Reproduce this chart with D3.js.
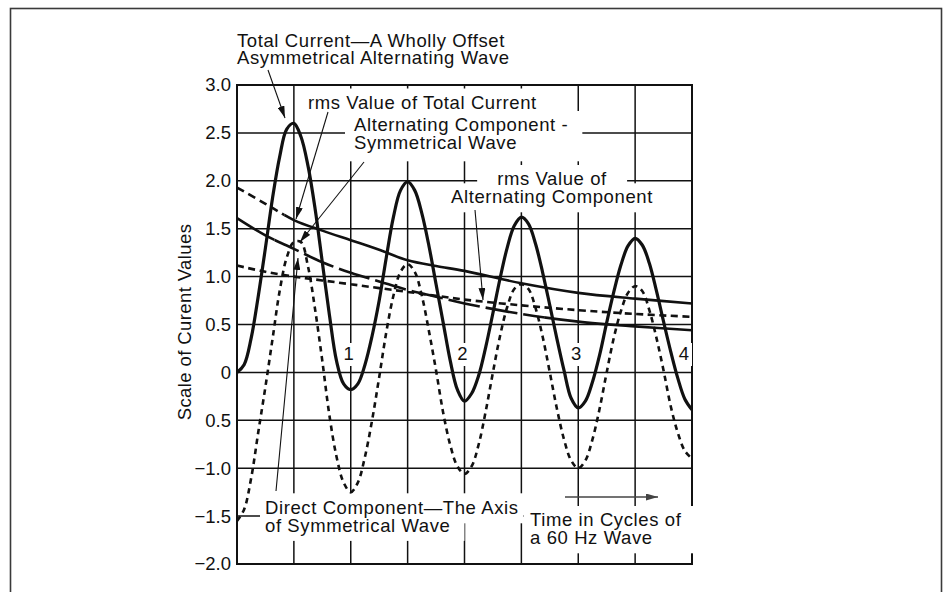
<!DOCTYPE html>
<html><head><meta charset="utf-8">
<script src="https://cdn.jsdelivr.net/npm/d3@7"></script>
<style>
body{margin:0;background:#fff}
svg{display:block}
text{font-family:"Liberation Sans",Arial,Helvetica,sans-serif;font-size:18.5px;fill:#111;letter-spacing:0.6px}
text.tick{font-size:18.5px;letter-spacing:0}
text.ytitle{font-size:18.5px;letter-spacing:0.4px}
</style>
</head><body>
<svg id="chart" width="951" height="592"></svg>
<script>
// ---- data ----
const cycles = [0,0.0625,0.125,0.1875,0.25,0.3125,0.375,0.4375,0.5,0.5625,0.625,0.6875,0.75,0.8125,0.875,0.9375,
  1,1.0625,1.125,1.1875,1.25,1.3125,1.375,1.4375,1.5,1.5625,1.625,1.6875,1.75,1.8125,1.875,1.9375,
  2,2.0625,2.125,2.1875,2.25,2.3125,2.375,2.4375,2.5,2.5625,2.625,2.6875,2.75,2.8125,2.875,2.9375,
  3,3.0625,3.125,3.1875,3.25,3.3125,3.375,3.4375,3.5,3.5625,3.625,3.6875,3.75,3.8125,3.875,3.9375,4];
const totalCurrent = [0,0.08,0.36,0.8,1.3,1.82,2.25,2.54,2.6,2.46,2.15,1.7,1.15,0.6,0.12,-0.12,
  -0.18,-0.12,0.08,0.38,0.75,1.2,1.62,1.9,1.99,1.9,1.66,1.32,0.92,0.52,0.12,-0.18,
  -0.3,-0.22,-0.03,0.27,0.62,0.98,1.3,1.53,1.62,1.55,1.34,1.04,0.7,0.35,0.02,-0.27,
  -0.37,-0.3,-0.1,0.18,0.52,0.84,1.12,1.32,1.4,1.33,1.14,0.85,0.53,0.22,-0.06,-0.28,-0.39];
const alternatingComponent = [-1.55,-1.43,-1.1,-0.62,-0.15,0.35,0.85,1.2,1.36,1.36,1.1,0.65,0.12,-0.45,-0.88,-1.15,
  -1.25,-1.15,-0.88,-0.5,-0.05,0.42,0.8,1.05,1.13,1.05,0.8,0.43,0.02,-0.42,-0.76,-0.98,
  -1.06,-0.98,-0.75,-0.4,0,0.38,0.68,0.87,0.92,0.87,0.67,0.37,0,-0.38,-0.7,-0.92,
  -1.0,-0.92,-0.7,-0.38,0,0.36,0.64,0.83,0.9,0.85,0.65,0.36,0.02,-0.35,-0.63,-0.82,-0.9];
const envelopeCycles = [0,0.25,0.5,0.75,1,1.25,1.5,1.75,2,2.5,3,3.5,4];
const rmsTotal =        [1.93,1.76,1.59,1.48,1.38,1.28,1.17,1.11,1.06,0.93,0.83,0.77,0.72];
const directComponent = [1.61,1.43,1.29,1.15,1.04,0.95,0.86,0.79,0.72,0.61,0.53,0.48,0.44];
const rmsAlternating =  [1.115,1.05,1.0,0.96,0.92,0.88,0.84,0.80,0.76,0.70,0.65,0.61,0.58];
const yTicks = [3,2.5,2,1.5,1,0.5,0,-0.5,-1,-1.5,-2];
const yTickLabels = ["3.0","2.5","2.0","1.5","1.0","0.5","0","0.5","\u22121.0","\u22121.5","\u22122.0"];
const gridCycles = [0,0.5,1,1.5,2,2.5,3,3.5,4];
const cycleTicks = [1,2,3,4];
const cycleLabels = ["1","2","3","4"];

// ---- layout ----
const svg = d3.select("#chart");
const x = d3.scaleLinear().domain([0,4]).range([237,692]);
const y = d3.scaleLinear().domain([-2,3]).range([564,85]);

svg.append("rect").attr("x",10.5).attr("y",8.5).attr("width",931).attr("height",640)
  .attr("fill","none").attr("stroke","#3a3a3a").attr("stroke-width",1.6);

const defs = svg.append("defs");
defs.append("marker").attr("id","arr").attr("viewBox","0 0 12 7").attr("refX",12).attr("refY",3.5)
  .attr("markerWidth",12).attr("markerHeight",7).attr("markerUnits","userSpaceOnUse").attr("orient","auto")
  .append("path").attr("d","M0,0L12,3.5L0,7Z").attr("fill","#111");
defs.append("marker").attr("id","arrg").attr("viewBox","0 0 12 7").attr("refX",12).attr("refY",3.5)
  .attr("markerWidth",12).attr("markerHeight",7).attr("markerUnits","userSpaceOnUse").attr("orient","auto")
  .append("path").attr("d","M0,0L12,3.5L0,7Z").attr("fill","#444");

function clip(id,x0,x1){
  defs.append("clipPath").attr("id",id).append("rect")
    .attr("x",x0).attr("y",60).attr("width",x1-x0).attr("height",540);
}

// grid
const grid = svg.append("g").attr("stroke","#111").attr("stroke-width",1.5);
yTicks.forEach(v=>grid.append("line").attr("x1",x(0)).attr("x2",x(4)).attr("y1",y(v)).attr("y2",y(v)));
gridCycles.forEach(c=>grid.append("line").attr("x1",x(c)).attr("x2",x(c)).attr("y1",y(3)).attr("y2",y(-2)));
svg.append("rect").attr("x",x(0)).attr("y",y(3)).attr("width",x(4)-x(0)).attr("height",y(-2)-y(3))
  .attr("fill","none").attr("stroke","#111").attr("stroke-width",2);

// annotations (text + white masks)
const notes = [
  {lines:["Total Current\u2014A Wholly Offset","Asymmetrical Alternating Wave"], x:237, base:[46.7,64.3], anchor:"start", mask:false},
  {lines:["rms Value of Total Current"], x:308, base:[108.5], anchor:"start", mask:"line", pad:[6,8]},
  {lines:["Alternating Component -","Symmetrical Wave"], x:354, base:[131,149.3], anchor:"start", mask:"block", pad:[9,14], bot:12},
  {lines:["rms Value of","Alternating Component"], x:552, base:[185,203.3], anchor:"middle", mask:"line", pads:[[20,20],[8,8]]},
  {lines:["Direct Component\u2014The Axis","of Symmetrical Wave"], x:265, base:[514.3,531.9], anchor:"start", mask:"line", pads:[[5,5],[5,14]], top:21},
  {lines:["Time in Cycles of","a 60 Hz Wave"], x:530, base:[526,544.3], anchor:"start", mask:"block", pad:[6,14]}
];
const maskG = svg.append("g");
const curveG = svg.append("g");
const textG = svg.append("g");
notes.forEach(n=>{
  const boxes=[];
  n.lines.forEach((s,i)=>{
    const t = textG.append("text").attr("x",n.x).attr("y",n.base[i]).attr("text-anchor",n.anchor).text(s);
    boxes.push(t.node().getBBox());
  });
  if(!n.mask) return;
  const top = n.top||20, bot = n.bot||9;
  if(n.mask==="block"){
    const x0=d3.min(boxes,b=>b.x)-n.pad[0], x1=d3.max(boxes,b=>b.x+b.width)+n.pad[1];
    maskG.append("rect").attr("x",x0).attr("y",n.base[0]-top).attr("width",x1-x0)
      .attr("height",n.base[n.base.length-1]+bot-(n.base[0]-top)).attr("fill","#fff");
  } else {
    boxes.forEach((b,i)=>{
      const p = n.pads? n.pads[i] : n.pad;
      maskG.append("rect").attr("x",b.x-p[0]).attr("y",n.base[i]-top).attr("width",b.width+p[0]+p[1])
        .attr("height",top+bot).attr("fill","#fff");
    });
  }
});
// cycle numbers
cycleTicks.forEach((c,i)=>{
  const last = i===cycleTicks.length-1;
  const t = textG.append("text").attr("class","tick").attr("x",last? x(c)-3 : x(c)-2).attr("y",360)
    .attr("text-anchor",last?"end":"middle").text(cycleLabels[i]);
  const b = t.node().getBBox();
  maskG.append("rect").attr("x",b.x-3).attr("y",343).attr("width",b.width+6).attr("height",23).attr("fill","#fff");
});
// y tick labels
yTicks.forEach((v,i)=>textG.append("text").attr("class","tick").attr("x",231).attr("y",y(v)).attr("dy","0.35em")
  .attr("text-anchor","end").text(yTickLabels[i]));
textG.append("text").attr("class","ytitle").attr("transform","translate(191,322) rotate(-90)").attr("text-anchor","middle")
  .text("Scale of Curent Values");

// curves
clip("cAll",x(0)-2,x(4)+1);
const line = d3.line().x(d=>x(d[0])).y(d=>y(d[1])).curve(d3.curveCatmullRom.alpha(0.5));
const wave = d3.zip(cycles,totalCurrent);
const acw = d3.zip(cycles,alternatingComponent);
const rmsT = d3.zip(envelopeCycles,rmsTotal);
const dc = d3.zip(envelopeCycles,directComponent);
const rmsA = d3.zip(envelopeCycles,rmsAlternating);

function draw(data,w,dash,clipId){
  curveG.append("path").attr("d",line(data)).attr("fill","none").attr("stroke","#111")
    .attr("stroke-width",w).attr("stroke-dasharray",dash||null).attr("clip-path","url(#"+clipId+")");
}
draw(acw,2.6,"5.5,4.5","cAll");
draw(rmsA,2.6,"7,4.5","cAll");
clip("rtA",x(0)-2,x(0.42)); clip("rtB",x(0.42),x(4)+1);
draw(rmsT,2.6,"8,5","rtA"); draw(rmsT,2.6,null,"rtB");
clip("dcA",x(0)-2,x(0.33)); clip("dcB",x(0.33),x(2.7)); clip("dcC",x(2.7),x(4)+1);
draw(dc,2.6,null,"dcA"); draw(dc,2.6,"32,6","dcB"); draw(dc,2.6,null,"dcC");
draw(wave,3.2,null,"cAll");

// leader arrows
const arrows = [
  [[268,70],[285,118]],
  [[328,112],[296,219]],
  [[364,162],[300,242]],
  [[276,491],[298,258]],
  [[475,210],[483,300]]
];
arrows.forEach(a=>svg.append("line").attr("x1",a[0][0]).attr("y1",a[0][1]).attr("x2",a[1][0]).attr("y2",a[1][1])
  .attr("stroke","#111").attr("stroke-width",1.1).attr("marker-end","url(#arr)"));
svg.append("line").attr("x1",565).attr("y1",497).attr("x2",658).attr("y2",497)
  .attr("stroke","#444").attr("stroke-width",1.5).attr("marker-end","url(#arrg)");
</script>
</body></html>
